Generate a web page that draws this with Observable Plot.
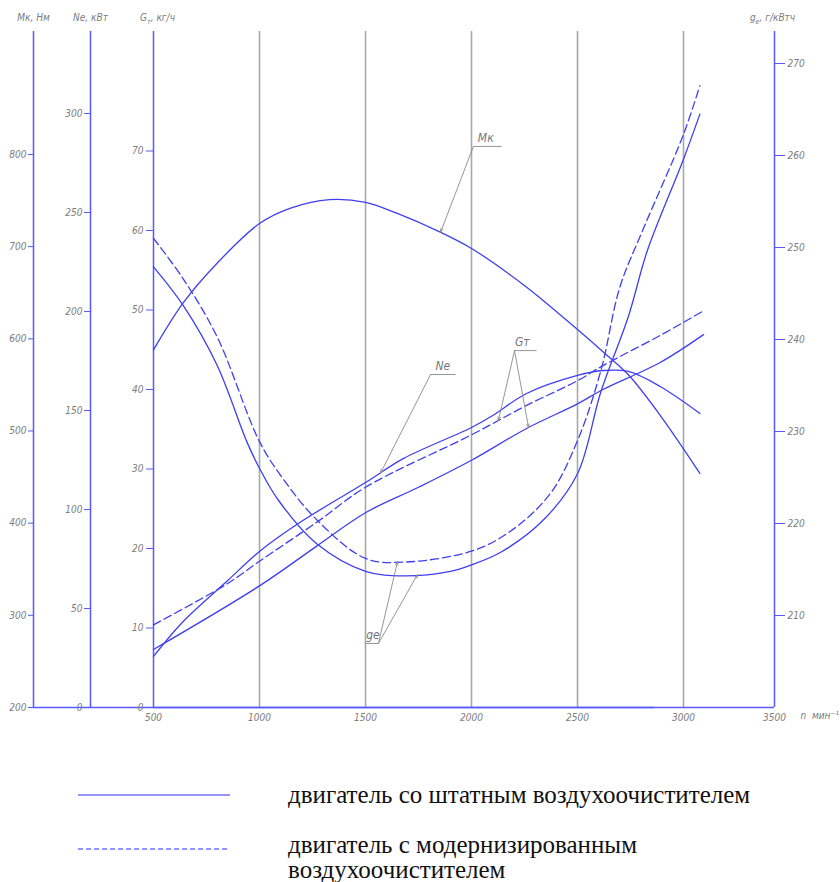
<!DOCTYPE html>
<html><head><meta charset="utf-8">
<script src="https://cdn.jsdelivr.net/npm/d3@7"></script>
<script src="https://cdn.jsdelivr.net/npm/@observablehq/plot@0.6"></script>
<style>
body{margin:0;background:#fff;}
#chart{position:relative;width:840px;height:882px;overflow:hidden;}
.leg{position:absolute;font-family:"Liberation Serif","Times New Roman",serif;font-size:25px;color:#111;line-height:25px;white-space:nowrap;}
.legline{position:absolute;}
</style></head><body><div id="chart"></div>
<script>
// ---- axis ticks ----
const rpmTicks = [500, 1000, 1500, 2000, 2500, 3000, 3500];
const gridRpm = [1000, 1500, 2000, 2500, 3000];
const mkTicks = [200, 300, 400, 500, 600, 700, 800];
const neTicks = [0, 50, 100, 150, 200, 250, 300];
const gmTicks = [0, 10, 20, 30, 40, 50, 60, 70];
const geTicks = [210, 220, 230, 240, 250, 260, 270];
const mkDomain = [200, 933.4];
const neDomain = [0, 341.4];
const gmDomain = [0, 85.03];
const geDomain = [200, 273.48];

// ---- series ----
const mkRpm = [500, 640, 800, 1000, 1150, 1330, 1500, 1650, 1850, 2000, 2260, 2500, 2620, 2740, 2890, 3090];
const mkStd = [588, 639, 682, 725, 742, 751, 748, 736, 716, 698, 656, 610, 586, 561, 517, 454];

const neRpm = [500, 640, 850, 1000, 1190, 1500, 1680, 2000, 2100, 2260, 2500, 2620, 2740, 2890, 3090];
const neStd = [25.8, 43.4, 64.1, 78.8, 93.4, 113.6, 125.8, 141.4, 147.5, 158.6, 167.7, 170.2, 169.7, 162.1, 148.5];

const gmStdRpm = [500, 1000, 1270, 1500, 1750, 2000, 2260, 2500, 2620, 2890, 3110];
const gmStd = [7.3, 15.3, 20.3, 24.5, 27.7, 31.1, 35.1, 38.2, 40.0, 43.4, 46.9];
const gmModRpm = [500, 850, 1000, 1270, 1500, 2000, 2260, 2500, 2620, 2890, 3110];
const gmMod = [10.4, 15.6, 18.4, 23.3, 27.7, 34.3, 38.0, 41.1, 43.0, 46.8, 49.9];

const geStdRpm = [500, 640, 800, 940, 1000, 1090, 1270, 1500, 1680, 1900, 2000, 2140, 2340, 2500, 2610, 2740, 2830, 3000, 3090];
const geStd = [247.9, 243.7, 237.2, 228.9, 226.0, 222.5, 217.8, 214.8, 214.3, 214.8, 215.5, 216.9, 220.4, 225.4, 234.3, 242.5, 249.7, 259.6, 264.5];
const geModRpm = [500, 640, 800, 1000, 1110, 1270, 1500, 1680, 2000, 2180, 2370, 2500, 2610, 2700, 2810, 3000, 3090];
const geMod = [251.0, 246.6, 240.3, 228.9, 224.9, 220.4, 216.2, 215.8, 217.0, 219.1, 223.2, 229.0, 236.6, 245.7, 252.0, 262.3, 267.6];

// ---- annotations (leader labels) ----
const annLabel = ["Мк", "Ne", "Gт", "gе"];
const annVertexRpm = [2009, 1807, 2203, 1561];
const annLevel = [0.830, 0.4926, 0.528, 0.0947];
const annUlFrom = [2009, 1807, 2203, 1500];
const annUlTo = [2142, 1925, 2307, 1561];
const annTextRpm = [2030, 1830, 2205, 1503];
const annTargets = [[["mk", 1854]], [["ne", 1571]], [["gmMod", 2127], ["gmStd", 2269]], [["geMod", 1651], ["geStd", 1745]]];

// ---- legend ----
const legendText = ["двигатель со штатным воздухоочистителем", "двигатель с модернизированным воздухоочистителем"];

const norm = (v, d) => (v - d[0]) / (d[1] - d[0]);
const denorm = (t, d) => Math.round(d[0] + t * (d[1] - d[0]));

const seriesDefs = {
  mk: {rpm: mkRpm, v: mkStd, dom: mkDomain, dash: false},
  ne: {rpm: neRpm, v: neStd, dom: neDomain, dash: false},
  gmStd: {rpm: gmStdRpm, v: gmStd, dom: gmDomain, dash: false},
  gmMod: {rpm: gmModRpm, v: gmMod, dom: gmDomain, dash: true},
  geStd: {rpm: geStdRpm, v: geStd, dom: geDomain, dash: false},
  geMod: {rpm: geModRpm, v: geMod, dom: geDomain, dash: true}
};
const rows = [];
for (const [name, s] of Object.entries(seriesDefs)) {
  s.rpm.forEach((r, i) => rows.push({name, dash: s.dash, rpm: r, y: norm(s.v[i], s.dom)}));
}
function at(name, r) {
  const s = seriesDefs[name];
  const i = Math.max(1, d3.bisectLeft(s.rpm, r));
  const t = (r - s.rpm[i - 1]) / (s.rpm[i] - s.rpm[i - 1]);
  return norm(s.v[i - 1] + t * (s.v[i] - s.v[i - 1]), s.dom);
}
const leaders = [];
annTargets.forEach((ts, k) => ts.forEach(([n, r]) => leaders.push({x1: annVertexRpm[k], y1: annLevel[k], x2: r, y2: at(n, r)})));
const ann = annLabel.map((l, k) => ({label: l, x1: annUlFrom[k], x2: annUlTo[k], xt: annTextRpm[k], y: annLevel[k]}));

const BLUE = "#3f3ff0", AXIS = "#5858ff", GRID = "#a8a8a8", TXT = "#7c7c7c";

const chart = Plot.plot({
  width: 840, height: 740,
  marginTop: 31, marginBottom: 33, marginLeft: 153, marginRight: 66,
  x: {type: "linear", domain: [500, 3000, 3500], range: [153, 683, 774]},
  y: {domain: [0, 1]},
  style: {fontFamily: "'Liberation Sans Narrow','DejaVu Sans Condensed',sans-serif", fontSize: "10px", fontStyle: "italic", background: "#fff"},
  marks: [
    Plot.ruleX(gridRpm, {stroke: GRID, strokeWidth: 1.6}),
    Plot.ruleX([500], {dx: -120, stroke: AXIS, strokeWidth: 1.5}),
    Plot.ruleX([500], {dx: -63, stroke: AXIS, strokeWidth: 1.5}),
    Plot.ruleX([500], {stroke: AXIS, strokeWidth: 1.5}),
    Plot.ruleX([3500], {stroke: AXIS, strokeWidth: 1.5}),
    Plot.ruleY([0], {stroke: AXIS, strokeWidth: 1.5}),
    Plot.ruleY([0], {dx: -120, stroke: AXIS, strokeWidth: 1.5}),
    Plot.axisY(mkTicks.map(t => norm(t, mkDomain)), {anchor: "left", dx: -120, tickSize: 5, tickPadding: 2, tickFormat: t => denorm(t, mkDomain), stroke: AXIS, fill: TXT, label: null}),
    Plot.axisY(neTicks.map(t => norm(t, neDomain)), {anchor: "left", dx: -63, tickSize: 6, tickPadding: 2, tickFormat: t => denorm(t, neDomain), stroke: AXIS, fill: TXT, label: null}),
    Plot.axisY(gmTicks.map(t => norm(t, gmDomain)), {anchor: "left", tickSize: 7, tickPadding: 3, tickFormat: t => denorm(t, gmDomain), stroke: AXIS, fill: TXT, label: null}),
    Plot.axisY(geTicks.map(t => norm(t, geDomain)), {anchor: "right", tickSize: 10, tickPadding: 3, tickFormat: t => denorm(t, geDomain), stroke: AXIS, fill: TXT, label: null}),
    Plot.axisX(rpmTicks, {anchor: "bottom", tickSize: 0, tickPadding: 6, fill: TXT, label: null, tickFormat: d => String(d)}),
    Plot.text(["Мк, Нм"], {frameAnchor: "top-left", dx: -120, dy: -18, textAnchor: "middle", fill: TXT}),
    Plot.text(["Ne, кВт"], {frameAnchor: "top-left", dx: -63, dy: -18, textAnchor: "middle", fill: TXT}),
    Plot.text(["Gт, кг/ч"], {frameAnchor: "top-left", dx: 4, dy: -18, textAnchor: "middle", fill: TXT}),
    Plot.text(["gе, г/кВтч"], {frameAnchor: "top-right", dx: -2, dy: -18, textAnchor: "middle", fill: TXT}),
    Plot.text(["n  мин⁻¹"], {frameAnchor: "bottom-right", dx: 26, dy: 11, textAnchor: "start", fill: TXT}),
    Plot.line(rows.filter(d => !d.dash), {x: "rpm", y: "y", z: "name", stroke: BLUE, strokeWidth: 1.3, curve: "catmull-rom"}),
    Plot.line(rows.filter(d => d.dash), {x: "rpm", y: "y", z: "name", stroke: BLUE, strokeWidth: 1.3, strokeDasharray: "8,4", curve: "catmull-rom"}),
    Plot.arrow(leaders, {x1: "x1", y1: "y1", x2: "x2", y2: "y2", stroke: "#8a8a8a", strokeWidth: 0.9, headLength: 6, headAngle: 40}),
    Plot.link(ann, {x1: "x1", x2: "x2", y1: "y", y2: "y", stroke: "#8a8a8a", strokeWidth: 0.9}),
    Plot.text(ann, {x: "xt", y: "y", text: "label", dy: -8, textAnchor: "start", fill: "#777", fontSize: 12})
  ]
});

// subscripts in axis titles
d3.select(chart).selectAll("text").each(function() {
  const t = this.textContent;
  const m = {"Gт, кг/ч": ["G", "т", ", кг/ч"], "gе, г/кВтч": ["g", "е", ", г/кВтч"]}[t];
  if (!m) return;
  const sel = d3.select(this);
  const target = sel.select("tspan").empty() ? sel : sel.select("tspan");
  target.text(null);
  target.append("tspan").text(m[0]);
  target.append("tspan").attr("dy", 3).attr("font-size", 7).text(m[1]);
  target.append("tspan").attr("dy", -3).text(m[2]);
});

const root = document.getElementById("chart");
root.appendChild(chart);
chart.style.position = "absolute"; chart.style.left = "0"; chart.style.top = "0";

function legLine(top, dash) {
  const s = d3.create("svg").attr("class", "legline").attr("width", 154).attr("height", 6)
    .style("left", "77px").style("top", (top - 3) + "px");
  s.append("line").attr("x1", 1).attr("x2", 153).attr("y1", 3).attr("y2", 3)
    .attr("stroke", "#7070ff").attr("stroke-width", 1.3).attr("stroke-dasharray", dash ? "5,3" : null);
  root.appendChild(s.node());
}
legLine(795, false);
legLine(849, true);
const l1 = document.createElement("div"); l1.className = "leg"; l1.style.left = "288px"; l1.style.top = "782px"; l1.textContent = legendText[0]; root.appendChild(l1);
const l2 = document.createElement("div"); l2.className = "leg"; l2.style.left = "288px"; l2.style.top = "832px"; l2.style.whiteSpace = "normal"; l2.style.width = "420px"; l2.textContent = legendText[1]; root.appendChild(l2);
</script></body></html>
